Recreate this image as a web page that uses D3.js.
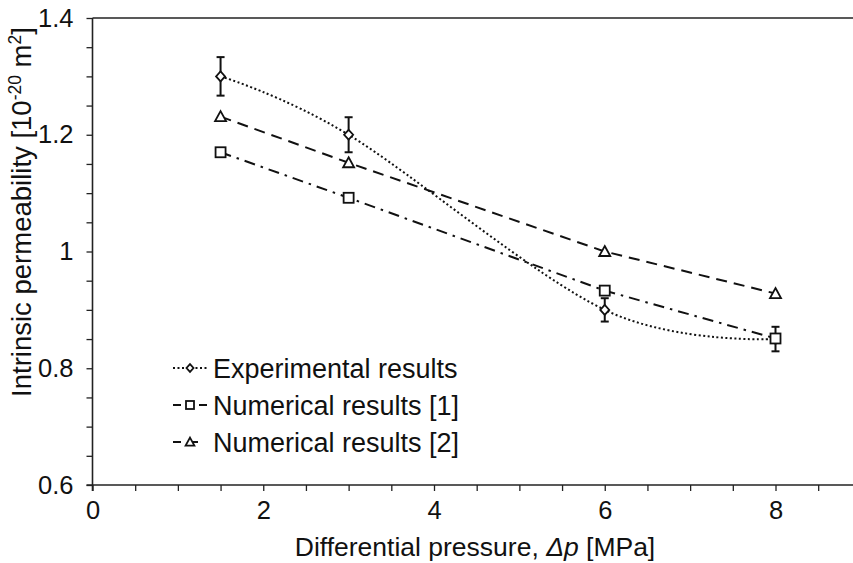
<!DOCTYPE html>
<html><head><meta charset="utf-8">
<script src="https://cdn.jsdelivr.net/npm/d3@7"></script>
<style>body{margin:0;background:#fff}svg{display:block}text{font-family:"Liberation Sans",Arial,sans-serif;fill:#111}</style>
</head><body><svg id="c" width="853" height="563"></svg>
<script>
const pressure = [1.5, 3, 6, 8];
const experimental = [1.30, 1.20, 0.90, 0.85];
const expError = [0.033, 0.030, 0.020, 0.021];
const numerical1 = [1.17, 1.092, 0.933, 0.851];
const numerical2 = [1.231, 1.152, 1.0, 0.928];
const xTicks = [0, 2, 4, 6, 8];
const yTicks = [0.6, 0.8, 1.0, 1.2, 1.4];
const seriesNames = ["Experimental results", "Numerical results [1]", "Numerical results [2]"];

const svg = d3.select("#c");
const x = d3.scaleLinear().domain([0, 9]).range([92.5, 92.5 + 9 * 85.375]);
const y = d3.scaleLinear().domain([0.6, 1.4]).range([485, 18]);

// axes
const xAxis = d3.axisBottom(x).tickValues(d3.range(0, 9.01, 0.5)).tickSize(6)
  .tickFormat(d => xTicks.includes(d) ? d3.format("d")(d) : "");
const gx = svg.append("g").attr("transform", `translate(0,${y(0.6)})`).call(xAxis);
gx.select(".domain").attr("d", `M${x(0)-6},0H900`).attr("stroke", "#222").attr("stroke-width", 1.6);
gx.selectAll(".tick line").attr("stroke", "#222").attr("stroke-width", 1.3);
gx.selectAll(".tick text").attr("font-size", 25.5).attr("dy", 24.5).attr("font-family", "Liberation Sans, Arial");

const yAxis = d3.axisLeft(y).tickValues(d3.range(0.6, 1.401, 0.05)).tickSize(6)
  .tickFormat(d => yTicks.some(t => Math.abs(t - d) < 1e-6) ? (Math.abs(d-1)<1e-6 ? "1" : d3.format(".1f")(d)) : "");
const gy = svg.append("g").attr("transform", `translate(${x(0)},0)`).call(yAxis);
gy.select(".domain").attr("d", `M0,${y(1.4)}V${y(0.6)+6}`).attr("stroke", "#222").attr("stroke-width", 1.6);
gy.selectAll(".tick line").attr("stroke", "#222").attr("stroke-width", 1.3);
gy.selectAll(".tick text").attr("font-size", 25.5).attr("dx", -10).attr("font-family", "Liberation Sans, Arial");

// top border
svg.append("line").attr("x1", x(0)).attr("x2", 853).attr("y1", y(1.4)).attr("y2", y(1.4))
  .attr("stroke", "#222").attr("stroke-width", 1.6);

// axis titles
const xt = svg.append("text").attr("x", 475).attr("y", 556).attr("text-anchor", "middle").attr("font-size", 26.5);
xt.append("tspan").text("Differential pressure, ");
xt.append("tspan").attr("font-style", "italic").text("Δp");
xt.append("tspan").text(" [MPa]");

const yt = svg.append("text").attr("transform", "translate(31,212) rotate(-90)").attr("text-anchor", "middle").attr("font-size", 27.5);
yt.append("tspan").text("Intrinsic permeability [10");
yt.append("tspan").attr("font-size", 17.5).attr("dy", -10).text("-20");
yt.append("tspan").attr("dy", 10).text(" m");
yt.append("tspan").attr("font-size", 17.5).attr("dy", -10).text("2");
yt.append("tspan").attr("dy", 10).text("]");

const styles = [
  {dash: "2,2.5", curve: d3.curveCardinal.tension(0), data: experimental, marker: "diamond"},
  {dash: "11,6,2.5,6", curve: d3.curveLinear, data: numerical1, marker: "square"},
  {dash: "11,7", curve: d3.curveLinear, data: numerical2, marker: "triangle"}
];

function drawMarker(g, type, cx, cy, s) {
  if (type === "diamond") {
    g.append("path").attr("d", `M${cx},${cy-s*0.55}L${cx+s*0.5},${cy}L${cx},${cy+s*0.55}L${cx-s*0.5},${cy}Z`)
      .attr("fill", "#fff").attr("stroke", "#111").attr("stroke-width", 1.8);
  } else if (type === "square") {
    g.append("rect").attr("x", cx - s/2).attr("y", cy - s/2).attr("width", s).attr("height", s)
      .attr("fill", "#fff").attr("stroke", "#111").attr("stroke-width", 1.8);
  } else {
    g.append("path").attr("d", `M${cx},${cy-s*0.55}L${cx+s*0.55},${cy+s*0.45}L${cx-s*0.55},${cy+s*0.45}Z`)
      .attr("fill", "#fff").attr("stroke", "#111").attr("stroke-width", 1.8);
  }
}

// lines
styles.forEach(st => {
  const line = d3.line().x((d, i) => x(pressure[i])).y(d => y(d)).curve(st.curve);
  svg.append("path").attr("d", line(st.data)).attr("fill", "none").attr("stroke", "#111")
    .attr("stroke-width", 2).attr("stroke-dasharray", st.dash);
});

// error bars
const eg = svg.append("g");
experimental.forEach((v, i) => {
  const cx = x(pressure[i]);
  eg.append("line").attr("x1", cx).attr("x2", cx).attr("y1", y(v + expError[i])).attr("y2", y(v - expError[i]))
    .attr("stroke", "#111").attr("stroke-width", 2);
  [v + expError[i], v - expError[i]].forEach(e => {
    eg.append("line").attr("x1", cx - 4).attr("x2", cx + 4).attr("y1", y(e)).attr("y2", y(e))
      .attr("stroke", "#111").attr("stroke-width", 2);
  });
});

// markers
const mg = svg.append("g");
styles.forEach(st => {
  st.data.forEach((v, i) => drawMarker(mg, st.marker, x(pressure[i]), y(v), st.marker === "diamond" ? 9 : 10));
});

// legend
const lg = svg.append("g");
const legY = [368, 405, 442];
const legSegs = [
  [[173, 208]],
  [[173, 181], [199, 207]],
  [[173, 181], [192, 198]]
];
seriesNames.forEach((name, i) => {
  const st = styles[i];
  const ly = legY[i];
  legSegs[i].forEach(s => {
    lg.append("line").attr("x1", s[0]).attr("x2", s[1]).attr("y1", ly).attr("y2", ly)
      .attr("stroke", "#111").attr("stroke-width", 2).attr("stroke-dasharray", i === 0 ? "2,2.5" : null);
  });
  drawMarker(lg, st.marker, 190, ly, i === 0 ? 7 : 8);
  lg.append("text").attr("x", 213).attr("y", ly + 9.5).attr("font-size", 27).text(name);
});
</script></body></html>
